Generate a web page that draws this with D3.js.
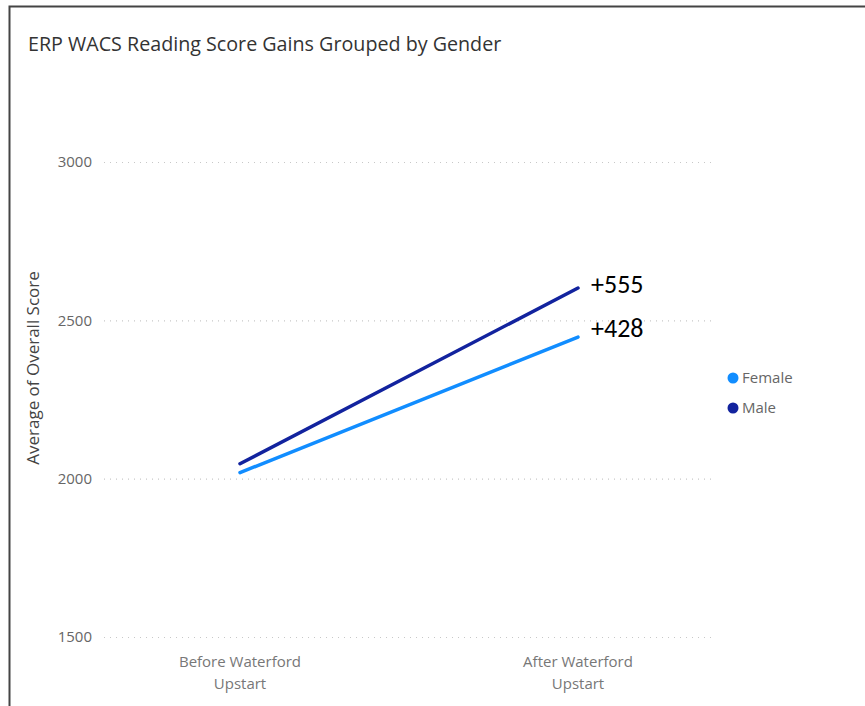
<!DOCTYPE html>
<html>
<head>
<meta charset="utf-8">
<script src="https://cdn.jsdelivr.net/npm/d3@7"></script>
<style>
  body { margin: 0; background: #fff; }
  svg { display: block; font-family: "Segoe UI", "Open Sans", "Noto Sans", sans-serif; }
</style>
</head>
<body>
<div id="chart"></div>
<script>
// data
var periods = ["Before Waterford Upstart", "After Waterford Upstart"];
var periodLines = [["Before Waterford", "Upstart"], ["After Waterford", "Upstart"]];
var genders = ["Female", "Male"];
var femaleScores = [2019, 2447];
var maleScores = [2047, 2602];
var gainLabels = ["+428", "+555"];
var yTicks = [1500, 2000, 2500, 3000];

var colors = {"Female": "#118dff", "Male": "#12239e"};

var W = 865, H = 706;
var svg = d3.select("#chart").append("svg").attr("width", W).attr("height", H);

// frame
svg.append("path").attr("d", "M9.5," + H + "V6.5H" + W)
    .attr("fill", "none").attr("stroke", "#444").attr("stroke-width", 2);

svg.append("text").attr("x", 28).attr("y", 51)
    .style("font-size", "19.7px").style("fill", "#333")
    .text("ERP WACS Reading Score Gains Grouped by Gender");

// scales
var y = d3.scaleLinear().domain([1500, 3000]).range([637, 162]);
var x = d3.scalePoint().domain(periods).range([240, 578]);

// grid + y ticks
var yAxis = svg.append("g").attr("transform", "translate(104,0)")
    .call(d3.axisLeft(y).tickValues(yTicks).tickSize(-608).tickPadding(12).tickFormat(d3.format("d")));
yAxis.select(".domain").remove();
yAxis.selectAll(".tick line").attr("stroke", "#c8c8c8").attr("stroke-dasharray", "1,5").attr("stroke-width", 1.2);
yAxis.selectAll(".tick text").style("font-size", "15px").style("fill", "#666")
    .style("font-family", "'Segoe UI', 'Open Sans', sans-serif");

svg.append("text").attr("transform", "translate(39,368) rotate(-90)")
    .attr("text-anchor", "middle").style("font-size", "17px").style("fill", "#444")
    .text("Average of Overall Score");

// x labels
var xl = svg.append("g").selectAll("text").data(periods).enter().append("text")
    .attr("text-anchor", "middle").style("font-size", "15px").style("fill", "#777");
xl.each(function(d, i) {
    var t = d3.select(this);
    periodLines[i].forEach(function(s, j) {
        t.append("tspan").attr("x", x(d)).attr("y", 667 + j * 22).text(s);
    });
});

// lines
var series = [
    {name: "Female", values: femaleScores, gain: gainLabels[0]},
    {name: "Male", values: maleScores, gain: gainLabels[1]}
];
var line = d3.line().x(function(d, i) { return x(periods[i]); }).y(function(d) { return y(d); });

svg.selectAll(".series").data(series).enter().append("path")
    .attr("d", function(d) { return line(d.values); })
    .attr("fill", "none").attr("stroke", function(d) { return colors[d.name]; })
    .attr("stroke-width", 3.5).attr("stroke-linecap", "round");

var gainDy = [0, 5];
svg.selectAll(".gain").data(series).enter().append("text")
    .attr("x", x(periods[1]) + 13)
    .attr("y", function(d, i) { return y(d.values[1]) + gainDy[i]; })
    .style("font-size", "26px").style("fill", "#000")
    .style("font-family", "Calibri, Carlito, 'Open Sans', sans-serif")
    .text(function(d) { return d.gain; });

// legend
var leg = svg.selectAll(".leg").data(genders).enter().append("g")
    .attr("transform", function(d, i) { return "translate(733," + (378 + i * 30) + ")"; });
leg.append("circle").attr("r", 5.5).attr("fill", function(d) { return colors[d]; });
leg.append("text").attr("x", 9).attr("y", 5).style("font-size", "15px").style("fill", "#666")
    .text(function(d) { return d; });
</script>
</body>
</html>
